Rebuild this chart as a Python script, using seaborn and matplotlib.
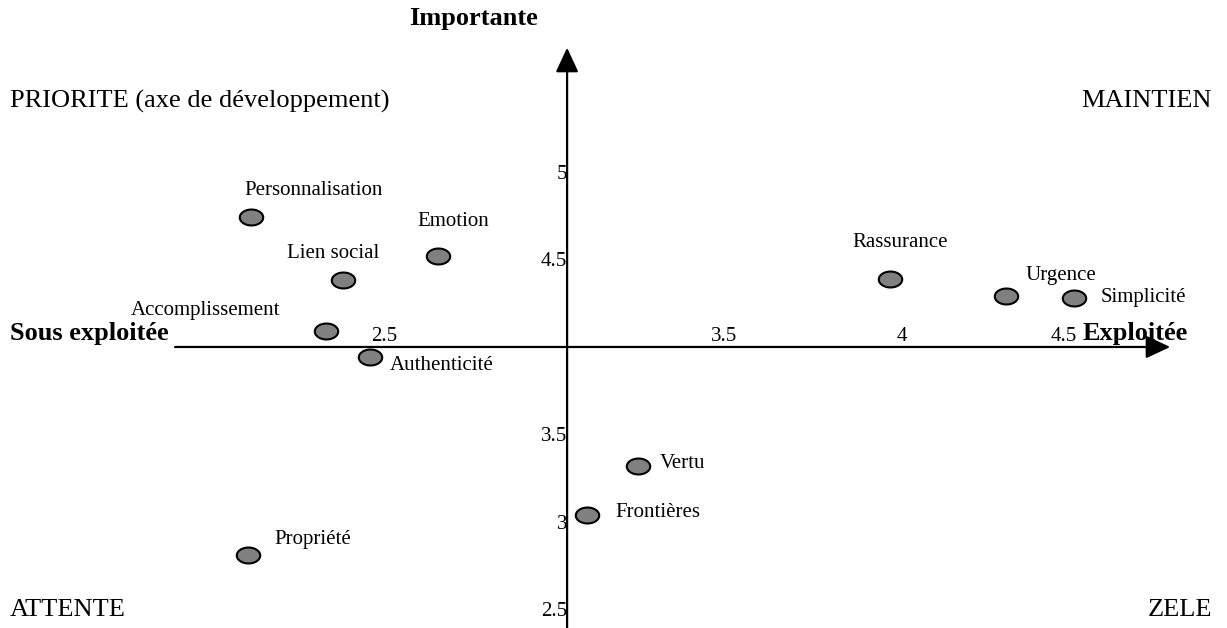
import numpy as np
import pandas as pd
import seaborn as sns
import matplotlib.pyplot as plt
from matplotlib.path import Path

# values
attributs = ['Personnalisation', 'Emotion', 'Lien social', 'Accomplissement', 'Authenticité',
             'Rassurance', 'Urgence', 'Simplicité', 'Vertu', 'Frontières', 'Propriété']
exploitation = [2.07, 2.62, 2.34, 2.29, 2.42, 3.95, 4.29, 4.49, 3.21, 3.06, 2.06]
importance = [4.74, 4.52, 4.38, 4.09, 3.94, 4.39, 4.29, 4.28, 3.32, 3.04, 2.81]

x_ticks = [2.5, 3.5, 4, 4.5]
y_ticks = [2.5, 3, 3.5, 4.5, 5]
x_cross, y_cross = 3, 4

# label placement around each point (pixels: dx, dy, alignment)
label_pos = {
    'Personnalisation': (63, 27, 'center'),
    'Emotion': (15, 34, 'center'),
    'Lien social': (-10, 27, 'center'),
    'Accomplissement': (-120, 21, 'center'),
    'Authenticité': (20, -8, 'left'),
    'Rassurance': (10, 36, 'center'),
    'Urgence': (55, 21, 'center'),
    'Simplicité': (27, 0, 'left'),
    'Vertu': (21, 2, 'left'),
    'Frontières': (28, 2, 'left'),
    'Propriété': (27, 16, 'left'),
}

df = pd.DataFrame({'attribut': attributs, 'exploitation': exploitation, 'importance': importance})

sns.set_style('white')
plt.rcParams['font.family'] = ['Liberation Serif', 'DejaVu Serif']
plt.rcParams['text.color'] = 'black'

fig = plt.figure(figsize=(12.27, 6.28), dpi=100)
ax = fig.add_axes([0, 0, 1, 1])
ax.patch.set_alpha(0)

# elliptic marker
t = np.linspace(0, 2 * np.pi, 60)
ellipse = Path(np.column_stack([np.cos(t), 0.68 * np.sin(t)]), closed=True)

sns.scatterplot(data=df, x='exploitation', y='importance', marker=ellipse, s=285,
                color='#808080', edgecolor='black', linewidth=1.5, ax=ax, legend=False, zorder=3)

ax.set_xlim(1.332, 4.941)
ax.set_ylim(2.394, 5.983)

# axes crossing at (3, 4)
for side in ['left', 'right', 'bottom', 'top']:
    ax.spines[side].set_visible(False)
ax.spines['left'].set_position(('data', x_cross))
ax.spines['top'].set_position(('data', y_cross))
ax.xaxis.set_ticks_position('top')
ax.set_xticks(x_ticks, labels=[f'{v:g}' for v in x_ticks])
ax.set_yticks(y_ticks, labels=[f'{v:g}' for v in y_ticks])
ax.tick_params(axis='both', length=0, labelsize=15, colors='black')
ax.tick_params(axis='x', pad=1)
ax.tick_params(axis='y', pad=0)
for lbl in ax.get_xticklabels():
    lbl.set_ha('right')
ax.set_xlabel('')
ax.set_ylabel('')

arrow = dict(arrowstyle='-|>,head_length=0.75,head_width=0.35', color='black', lw=1.6,
             mutation_scale=20, shrinkA=0, shrinkB=0)
ax.annotate('', xy=(4.774, y_cross), xytext=(1.847, y_cross), arrowprops=arrow)
ax.annotate('', xy=(x_cross, 5.71), xytext=(x_cross, 2.394), arrowprops=arrow)

for _, row in df.iterrows():
    dx, dy, ha = label_pos[row['attribut']]
    ax.annotate(row['attribut'], (row['exploitation'], row['importance']),
                xytext=(dx * 0.72, dy * 0.72), textcoords='offset points',
                ha=ha, va='center', fontsize=15, color='black')

# quadrant and axis titles
big = 19
fig.text(10 / 1227, 1 - 101 / 628, 'PRIORITE (axe de développement)', fontsize=big, va='center', ha='left')
fig.text(1212 / 1227, 1 - 101 / 628, 'MAINTIEN', fontsize=big, va='center', ha='right')
fig.text(10 / 1227, 1 - 610 / 628, 'ATTENTE', fontsize=big, va='center', ha='left')
fig.text(1212 / 1227, 1 - 610 / 628, 'ZELE', fontsize=big, va='center', ha='right')
fig.text(474 / 1227, 1 - 19 / 628, 'Importante', fontsize=big, fontweight='bold', va='center', ha='center')
fig.text(10 / 1227, 1 - 333 / 628, 'Sous exploitée', fontsize=big, fontweight='bold', va='center', ha='left')
fig.text(1188 / 1227, 1 - 333 / 628, 'Exploitée', fontsize=big, fontweight='bold', va='center', ha='right')

fig.savefig('out.png', dpi=100)
